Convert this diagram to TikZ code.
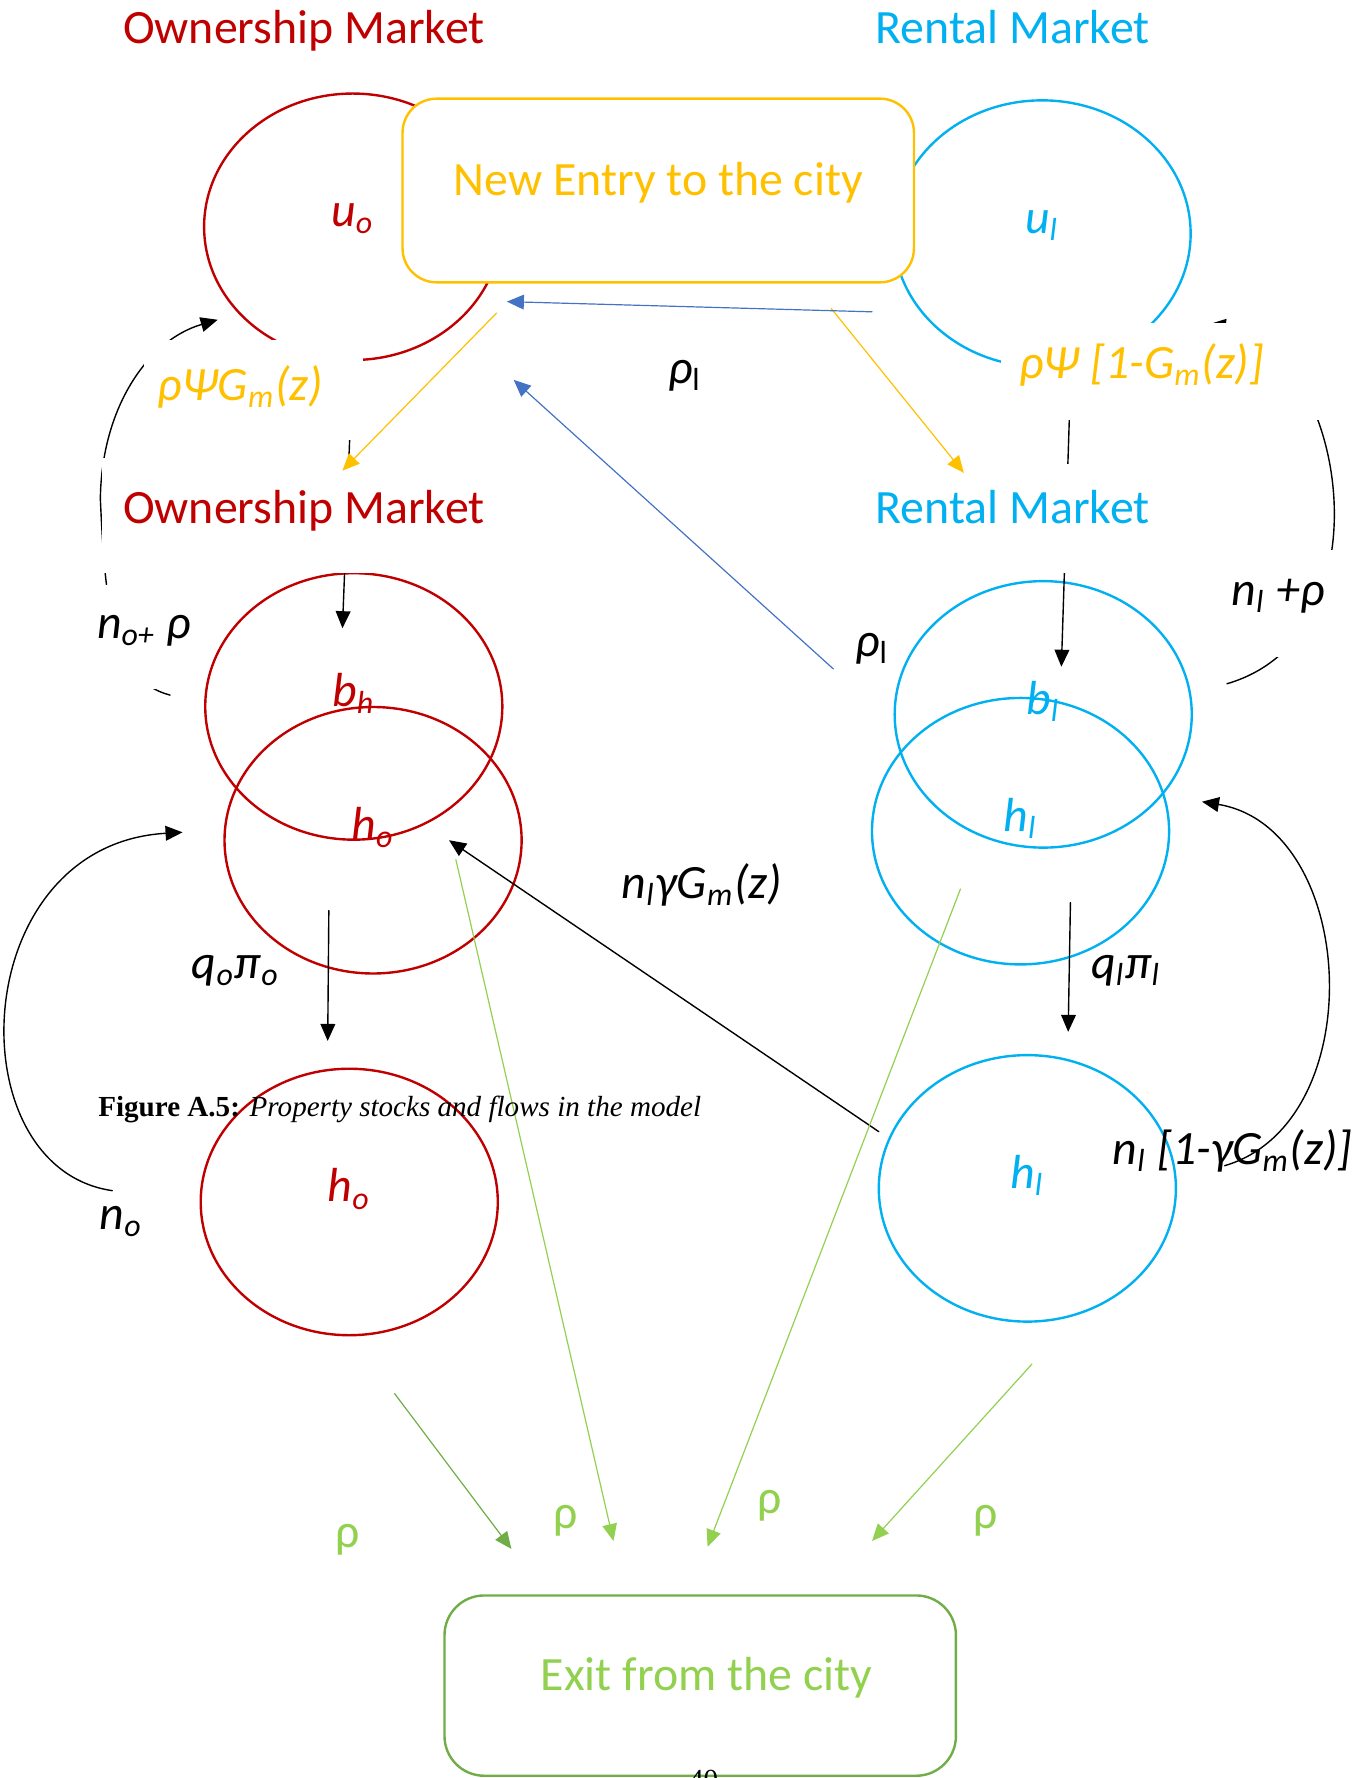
\documentclass[12pt,tikz,border=0pt]{standalone}
\usepackage{fontspec}
\setmainfont{Carlito}
\newfontfamily\capfont{Liberation Serif}
\usetikzlibrary{arrows.meta,shapes.geometric}
\definecolor{ownred}{HTML}{C00000}
\definecolor{rentblue}{HTML}{00B0F0}
\definecolor{entryyel}{HTML}{FFC000}
\definecolor{exitgreen}{HTML}{92D050}
\definecolor{exitdark}{HTML}{70AD47}
\definecolor{flowblue}{HTML}{4472C4}
\tikzset{
  stock/.style={ellipse,draw,line width=0.6pt,minimum width=2.62cm,minimum height=2.35cm,
    inner sep=0pt,text height=0pt,text depth=0pt,font=\itshape},
  flow/.style={->,line width=0.35pt},
  rate/.style={font=\itshape},
  smallserif/.style={font=\capfont\fontsize{7.3}{8.7}\selectfont}
}
\begin{document}
\begin{tikzpicture}[line cap=round,>={Triangle[length=1.5mm,width=1.3mm]}]
	\useasboundingbox (0,0) rectangle (12.04,-15.68);
	% the stocks
	\node[stock,ownred] (uo) at (3.11,-2.00) {u\textsubscript{o}};
	\node[stock,rentblue] (ul) at (9.19,-2.06) {u\textsubscript{l}};
	\node[stock,ownred] (bh) at (3.12,-6.23) {b\textsubscript{h}};
	\node[stock,ownred] (ho) at (3.29,-7.41) {h\textsubscript{o}};
	\node[stock,ownred] (ho2) at (3.08,-10.60) {h\textsubscript{o}};
	\node[stock,rentblue] (bl) at (9.20,-6.30) {b\textsubscript{l}};
	\node[stock,rentblue] (hl) at (9.00,-7.33) {h\textsubscript{l}};
	\node[stock,rentblue] (hl2) at (9.06,-10.48) {h\textsubscript{l}};
	% free ends of the flows
	\coordinate (ul-out) at (9.445,-3.23);
	\coordinate (bh-in) at (3.02,-5.54);
	\coordinate (bl-in) at (9.36,-5.88);
	\coordinate (bh-out) at (1.50,-6.13);
	\coordinate (uo-in) at (1.92,-2.82);
	\coordinate (bl-out) at (10.82,-6.03);
	\coordinate (ul-in) at (10.66,-2.86);
	% flows that run under the labels
	\draw[flow] (uo.south) -- (bh-in);
	\draw[flow] (ul-out) -- (bl-in);
	\draw[flow] (bh-out) .. controls (1.00,-6.00) and (0.93,-5.40) .. (0.885,-4.40)
		.. controls (0.895,-3.60) and (1.30,-3.00) .. (uo-in);
	\draw[flow] (bl-out) .. controls (12.30,-5.60) and (11.85,-3.00) .. (ul-in);
	% entry and exit
	\node[draw=entryyel,fill=white,rounded corners=0.3cm,line width=0.6pt,minimum width=4.51cm,minimum height=1.62cm,
		label={[entryyel,yshift=0.7mm]center:New Entry to the city}] (entry) at (5.805,-1.68) {};
	\node[draw=exitdark,rounded corners=0.35cm,line width=0.6pt,minimum width=4.51cm,minimum height=1.59cm,
		label={[exitgreen,xshift=0.55mm,yshift=0.65mm]center:Exit from the city}] (exit) at (6.175,-14.865) {};
	% white text boxes
	\fill[white] (1.27,-3.00) rectangle (3.20,-3.88);
	\fill[white] (8.83,-2.845) rectangle (11.65,-3.70);
	\fill[white] (0.90,-4.04) rectangle (4.45,-5.05);
	\fill[white] (7.50,-4.09) rectangle (10.30,-5.05);
	\fill[white] (0.80,-5.16) rectangle (1.70,-6.08);
	\fill[white] (10.62,-4.85) rectangle (11.92,-5.79);
	% market titles
	\node[ownred] (own) at (2.68,-0.27) {Ownership Market};
	\node[rentblue] (rent) at (8.93,-0.24) {Rental Market};
	\node[ownred] (own2) at (2.68,-4.50) {Ownership Market};
	\node[rentblue] (rent2) at (8.93,-4.47) {Rental Market};
	% rates
	\node[rate,entryyel] (psio) at (2.12,-3.41) {ρΨG\textsubscript{m}(z)};
	\node[rate,entryyel] (psil) at (10.07,-3.22) {ρΨ [1-G\textsubscript{m}(z)]};
	\node[rate] (rhol) at (6.04,-3.31) {ρ\textsubscript{\upshape l}};
	\node[rate] (rhol2) at (7.69,-5.72) {ρ\textsubscript{\upshape l}};
	\node[rate] (norho) at (1.27,-5.56) {n\textsubscript{o+} ρ};
	\node[rate] (nlrho) at (11.27,-5.26) {n\textsubscript{l} +ρ};
	\node[rate] (nlg) at (6.19,-7.80) {n\textsubscript{l}γG\textsubscript{m}(z)};
	\node[rate] (qo) at (2.08,-8.56) {q\textsubscript{o}π\textsubscript{o}};
	\node[rate] (ql) at (9.93,-8.56) {q\textsubscript{l}π\textsubscript{l}};
	\node[rate] (no) at (1.07,-10.77) {n\textsubscript{o}};
	\node[rate] (nl1g) at (10.87,-10.15) {n\textsubscript{l} [1-γG\textsubscript{m}(z)]};
	% entry flows
	\coordinate (ye1) at (4.38,-2.76); \coordinate (ye2) at (3.02,-4.15);
	\coordinate (ye3) at (7.33,-2.72); \coordinate (ye4) at (8.50,-4.17);
	\draw[->,entryyel,line width=0.3pt] (ye1) -- (ye2);
	\draw[->,entryyel,line width=0.3pt] (ye3) -- (ye4);
	\coordinate (bu1) at (7.69,-2.75); \coordinate (bu2) at (4.47,-2.66);
	\coordinate (bu3) at (7.35,-5.90); \coordinate (bu4) at (4.53,-3.35);
	\draw[->,flowblue,line width=0.3pt] (bu1) -- (bu2);
	\draw[->,flowblue,line width=0.3pt] (bu3) -- (bu4);
	% flows between the stocks
	\coordinate (hl2-out) at (7.75,-9.98); \coordinate (ho-in) at (3.96,-7.41);
	\coordinate (ho-out) at (2.90,-8.03); \coordinate (ho2-in) at (2.89,-9.18);
	\coordinate (hl-out) at (9.44,-7.96); \coordinate (hl2-in) at (9.42,-9.10);
	\draw[flow] (hl2-out) -- (ho-in);
	\draw[flow] (ho-out) -- (ho2-in);
	\draw[flow] (hl-out) -- (hl2-in);
	\coordinate (ho2-back) at (0.99,-10.50); \coordinate (ho-back) at (1.61,-7.34);
	\coordinate (hl2-back) at (10.80,-10.28); \coordinate (hl-back) at (10.60,-7.07);
	\draw[flow] (ho2-back) .. controls (-0.40,-10.30) and (-0.30,-7.45) .. (ho-back);
	\draw[flow] (hl2-back) .. controls (12.10,-9.90) and (11.98,-7.30) .. (hl-back);
	% exit flows
	\coordinate (ex1) at (3.48,-12.29); \coordinate (ex2) at (4.51,-13.66);
	\coordinate (ex3) at (4.02,-7.58); \coordinate (ex4) at (5.41,-13.59);
	\coordinate (ex5) at (8.47,-7.84); \coordinate (ex6) at (6.24,-13.64);
	\coordinate (ex7) at (9.10,-12.03); \coordinate (ex8) at (7.69,-13.59);
	\draw[->,exitdark,line width=0.3pt] (ex1) -- (ex2);
	\draw[->,exitgreen,line width=0.3pt] (ex3) -- (ex4);
	\draw[->,exitgreen,line width=0.3pt] (ex5) -- (ex6);
	\draw[->,exitgreen,line width=0.3pt] (ex7) -- (ex8);
	\node[exitgreen] (rho1) at (3.07,-13.58) {ρ};
	\node[exitgreen] (rho2) at (4.99,-13.41) {ρ};
	\node[exitgreen] (rho3) at (6.79,-13.28) {ρ};
	\node[exitgreen] (rho4) at (8.69,-13.41) {ρ};
	% caption and page number of the source page
	\node[smallserif,anchor=base west,inner sep=0pt] (caption) at (0.86,-9.85)
		{\textbf{Figure A.5:} \textit{Property stocks and flows in the model}};
	\node[smallserif,anchor=north,inner sep=0pt] (pageno) at (6.205,-15.60) {40};
\end{tikzpicture}
\end{document}
